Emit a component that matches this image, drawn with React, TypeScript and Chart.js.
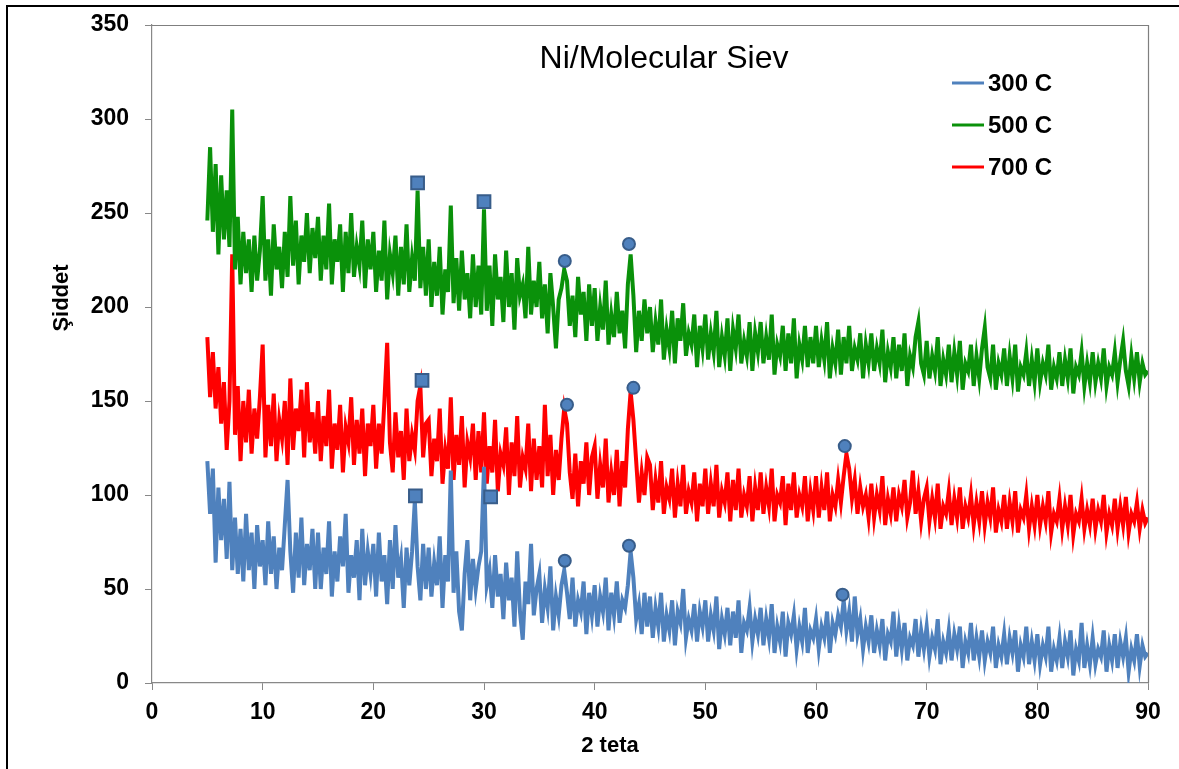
import React, { useEffect, useRef } from 'react';
import { Chart, registerables } from 'chart.js';

Chart.register(...registerables);

// 2θ sampling grid of the scans (degrees)
const THETA_START = 5;
const THETA_STEP = 0.25;

// Intensity, one row per 5 degrees (5.00 … 9.75, 10.00 … 14.75, …), last value at 90
const intensity300C = [
  118, 90, 114, 64, 104, 76, 98, 66, 107, 60, 88, 58, 82, 54, 90, 60, 80, 50, 84, 62,
  76, 52, 86, 58, 78, 50, 72, 60, 84, 108, 70, 48, 80, 56, 88, 52, 74, 60, 82, 50,
  80, 50, 72, 58, 86, 46, 70, 54, 78, 62, 90, 48, 68, 56, 76, 44, 82, 52, 70, 58,
  74, 46, 80, 54, 68, 42, 76, 50, 84, 56, 66, 40, 72, 52, 70, 97, 62, 44, 74, 50,
  72, 46, 64, 52, 78, 40, 68, 54, 113, 48, 70, 38, 28, 58, 76, 44, 66, 50, 62, 70,
  115, 52, 60, 40, 68, 46, 58, 34, 64, 44, 56, 30, 70, 38, 23, 54, 42, 74, 36, 50,
  58, 32, 50, 40, 62, 28, 46, 36, 52, 60, 48, 34, 56, 30, 44, 38, 54, 26, 48, 36,
  52, 30, 46, 38, 56, 28, 48, 36, 54, 32, 44, 40, 52, 70, 56, 34, 42, 26, 48, 30,
  46, 24, 40, 30, 48, 22, 36, 28, 44, 20, 38, 32, 50, 24, 34, 28, 42, 22, 38, 30,
  44, 22, 36, 28, 46, 18, 34, 26, 40, 20, 38, 24, 44, 16, 32, 28, 40, 22, 34, 26,
  40, 20, 34, 24, 42, 16, 30, 22, 38, 14, 32, 26, 36, 18, 30, 22, 40, 16, 28, 24,
  34, 18, 30, 24, 38, 16, 32, 26, 36, 30, 44, 28, 38, 22, 46, 26, 34, 18, 30, 22,
  36, 16, 28, 20, 34, 12, 26, 22, 38, 14, 30, 18, 32, 12, 24, 20, 34, 14, 28, 18,
  30, 14, 24, 18, 34, 10, 22, 16, 28, 12, 26, 18, 30, 8, 22, 16, 32, 12, 24, 14,
  28, 12, 22, 16, 30, 8, 20, 14, 26, 10, 24, 16, 28, 6, 20, 14, 30, 10, 22, 12,
  26, 10, 20, 14, 30, 6, 18, 12, 24, 8, 22, 14, 28, 4, 18, 12, 32, 8, 20, 10,
  24, 10, 18, 14, 28, 6, 20, 12, 26, 8, 22, 14, 24, 6, 18, 12, 26, 9, 20, 14,
  16,
];

const intensity500C = [
  246, 285, 240, 276, 228, 270, 236, 262, 232, 305, 220, 248, 212, 240, 218, 236, 208, 238, 214, 230,
  259, 214, 236, 206, 244, 220, 232, 210, 240, 216, 259, 222, 246, 212, 238, 224, 250, 218, 242, 226,
  248, 214, 238, 220, 255, 212, 236, 224, 244, 208, 240, 218, 250, 216, 232, 222, 246, 210, 236, 220,
  240, 208, 230, 214, 246, 204, 228, 218, 238, 206, 232, 212, 244, 208, 226, 214, 262, 210, 232, 206,
  236, 200, 224, 206, 232, 196, 220, 208, 254, 202, 226, 198, 230, 204, 218, 194, 228, 200, 222, 196,
  252, 198, 222, 190, 228, 204, 216, 192, 230, 200, 218, 188, 226, 206, 212, 194, 232, 196, 214, 200,
  224, 194, 212, 186, 218, 200, 178, 204, 210, 220, 214, 190, 206, 184, 216, 196, 208, 182, 212, 190,
  210, 182, 200, 188, 214, 180, 196, 184, 208, 186, 198, 178, 212, 228, 206, 176, 198, 182, 204, 186,
  200, 176, 192, 180, 204, 172, 188, 178, 198, 170, 194, 182, 202, 174, 186, 180, 196, 168, 190, 178,
  196, 172, 186, 176, 198, 168, 184, 174, 194, 166, 188, 178, 196, 170, 182, 174, 192, 166, 186, 176,
  192, 170, 184, 172, 196, 164, 180, 174, 190, 166, 186, 170, 194, 162, 180, 172, 190, 168, 184, 170,
  190, 168, 182, 172, 192, 162, 178, 170, 188, 164, 184, 170, 190, 166, 178, 172, 186, 162, 180, 170,
  186, 166, 178, 170, 188, 160, 176, 168, 184, 162, 180, 166, 186, 158, 174, 168, 184, 192, 170, 164,
  182, 162, 174, 166, 184, 158, 172, 164, 180, 160, 176, 164, 182, 156, 170, 166, 180, 158, 174, 162,
  178, 189, 168, 162, 180, 156, 170, 164, 178, 158, 174, 162, 180, 155, 168, 164, 176, 158, 172, 160,
  178, 160, 170, 164, 180, 156, 168, 162, 176, 158, 172, 162, 178, 154, 168, 164, 176, 158, 170, 160,
  176, 160, 170, 162, 178, 158, 168, 164, 176, 160, 172, 182, 166, 158, 174, 162, 176, 160, 170, 164,
  166,
];

const intensity700C = [
  184, 152, 176, 146, 168, 138, 160, 124, 150, 228, 132, 158, 118, 150, 128, 156, 122, 146, 130, 152,
  180, 120, 148, 126, 154, 118, 140, 130, 150, 116, 162, 124, 146, 134, 156, 120, 160, 128, 144, 122,
  150, 118, 142, 126, 156, 114, 138, 124, 148, 112, 136, 128, 152, 116, 140, 122, 146, 110, 138, 126,
  148, 114, 138, 122, 150, 181, 128, 112, 144, 120, 134, 108, 146, 118, 132, 124, 150, 158, 120, 138,
  140, 110, 130, 118, 146, 106, 124, 114, 152, 108, 132, 116, 142, 104, 128, 120, 138, 108, 134, 112,
  144, 106, 126, 112, 140, 102, 122, 116, 136, 100, 128, 110, 142, 104, 120, 114, 138, 102, 130, 108,
  126, 104, 148, 110, 132, 100, 124, 108, 130, 146, 138, 112, 98, 122, 94, 118, 106, 128, 100, 120,
  126, 98, 116, 104, 130, 96, 112, 100, 124, 94, 118, 104, 135, 155, 140, 118, 96, 112, 100, 120,
  116, 92, 108, 96, 118, 90, 104, 98, 114, 88, 106, 94, 116, 90, 102, 96, 112, 86, 106, 94,
  114, 90, 106, 94, 116, 88, 102, 96, 112, 86, 108, 92, 114, 88, 100, 94, 110, 86, 104, 92,
  112, 90, 104, 94, 114, 86, 100, 96, 110, 84, 106, 92, 112, 88, 100, 94, 110, 86, 102, 92,
  110, 88, 104, 92, 112, 86, 100, 94, 108, 96, 110, 122, 114, 98, 108, 90, 104, 94, 100, 88,
  106, 88, 100, 92, 110, 84, 98, 90, 104, 86, 100, 94, 108, 88, 96, 113, 90, 102, 86, 98,
  104, 86, 98, 88, 106, 82, 94, 90, 102, 84, 98, 88, 104, 82, 94, 88, 100, 84, 96, 86,
  102, 84, 96, 88, 104, 80, 92, 86, 100, 82, 96, 86, 102, 80, 92, 88, 100, 82, 94, 84,
  100, 84, 94, 86, 102, 80, 90, 86, 98, 82, 94, 84, 100, 79, 90, 86, 98, 82, 92, 84,
  98, 82, 92, 86, 100, 80, 90, 84, 98, 82, 94, 84, 99, 80, 90, 86, 96, 82, 92, 85,
  88,
];

const seriesLabels = ['300 C', '500 C', '700 C'];
const seriesColors = ['#4F81BD', '#0A910A', '#FF0000'];

// Phase markers (squares and circles) above the peaks
const squareMarkerX = [24.0, 30.0, 24.4, 23.8, 30.6];
const squareMarkerY = [266, 256, 161, 99.5, 99];
const circleMarkerX = [37.3, 43.1, 37.5, 43.5, 62.6, 37.3, 43.1, 62.4];
const circleMarkerY = [224.5, 233.5, 148, 157, 126, 65, 73, 47];

const xMin = 0;
const xMax = 90;
const xStep = 10;
const yMin = 0;
const yMax = 350;
const yStep = 50;

const chartTitle = 'Ni/Molecular Siev';
const xAxisTitle = '2 teta';
const yAxisTitle = 'Şiddet';

const FONT = "'Liberation Sans', Arial, sans-serif";

function toPoints(values: number[]) {
  return values.map((y, i) => ({ x: THETA_START + i * THETA_STEP, y }));
}

function zip(xs: number[], ys: number[]) {
  return xs.map((x, i) => ({ x, y: ys[i] }));
}

const overlayPlugin = {
  id: 'overlay',
  beforeDraw(chart: any) {
    const { ctx, width, height } = chart;
    ctx.save();
    ctx.fillStyle = '#ffffff';
    ctx.fillRect(0, 0, width, height);
    ctx.strokeStyle = '#000000';
    ctx.lineWidth = 2;
    ctx.beginPath();
    ctx.moveTo(7, height);
    ctx.lineTo(7, 6);
    ctx.lineTo(width, 6);
    ctx.stroke();
    ctx.restore();
  },
  afterDraw(chart: any) {
    const { ctx, chartArea: a } = chart;
    ctx.save();
    // plot area frame (top / right)
    ctx.strokeStyle = '#7f7f7f';
    ctx.lineWidth = 1.2;
    ctx.beginPath();
    ctx.moveTo(a.left, a.top + 0.5);
    ctx.lineTo(a.right + 0.5, a.top + 0.5);
    ctx.lineTo(a.right + 0.5, a.bottom);
    ctx.stroke();

    // chart title
    ctx.fillStyle = '#000000';
    ctx.textAlign = 'center';
    ctx.textBaseline = 'middle';
    ctx.font = `normal 32px ${FONT}`;
    ctx.fillText(chartTitle, a.left + 512, a.top + 34);

    // legend
    ctx.font = `bold 24px ${FONT}`;
    ctx.textAlign = 'left';
    seriesLabels.forEach((label, i) => {
      const y = a.top + 58 + i * 42;
      ctx.strokeStyle = seriesColors[i];
      ctx.lineWidth = 3;
      ctx.beginPath();
      ctx.moveTo(a.left + 800, y);
      ctx.lineTo(a.left + 832, y);
      ctx.stroke();
      ctx.fillText(label, a.left + 836, y + 1);
    });

    // axis titles
    ctx.font = `bold 22px ${FONT}`;
    ctx.textAlign = 'center';
    ctx.fillText(xAxisTitle, a.left + 458, a.bottom + 63);
    ctx.save();
    ctx.translate(62, a.top + 273);
    ctx.rotate(-Math.PI / 2);
    ctx.fillText(yAxisTitle, 0, 0);
    ctx.restore();
    ctx.restore();
  },
};

export default function App() {
  const canvasRef = useRef<HTMLCanvasElement | null>(null);

  useEffect(() => {
    const canvas = canvasRef.current;
    if (!canvas) return;
    const markerStyle = {
      backgroundColor: '#4F81BD',
      borderColor: '#385D8A',
      borderWidth: 2,
      showLine: false,
      order: -1,
    };
    const chart = new Chart(canvas, {
      type: 'line',
      data: {
        datasets: [
          {
            type: 'line',
            label: 'squares',
            data: zip(squareMarkerX, squareMarkerY),
            pointStyle: 'rect',
            pointRadius: 9,
            ...markerStyle,
          } as any,
          {
            type: 'line',
            label: 'circles',
            data: zip(circleMarkerX, circleMarkerY),
            pointStyle: 'circle',
            pointRadius: 6,
            ...markerStyle,
          } as any,
          ...[intensity300C, intensity500C, intensity700C].map((vals, i) => ({
            type: 'line',
            label: seriesLabels[i],
            data: toPoints(vals),
            borderColor: seriesColors[i],
            backgroundColor: seriesColors[i],
            borderWidth: 4,
            borderJoinStyle: 'miter',
            pointRadius: 0,
            tension: 0,
            fill: false,
            order: i,
          })),
        ] as any,
      },
      options: {
        responsive: false,
        animation: false,
        devicePixelRatio: 1,
        layout: { padding: { left: 0, right: 31, top: 25, bottom: 0 } },
        plugins: {
          legend: { display: false },
          title: { display: false },
          tooltip: { enabled: false },
        },
        scales: {
          x: {
            type: 'linear',
            min: xMin,
            max: xMax,
            afterFit: (s: any) => {
              s.height = 86;
              s.paddingLeft = 0;
              s.paddingRight = 0;
            },
            ticks: {
              stepSize: xStep,
              padding: 9,
              color: '#000',
              font: { family: FONT, size: 23, weight: 'bold' },
            },
            grid: { drawOnChartArea: false, drawTicks: true, tickLength: 7, color: '#888888' },
            border: { display: true, color: '#888888', width: 1.2 },
            title: { display: false, text: xAxisTitle },
          },
          y: {
            type: 'linear',
            min: yMin,
            max: yMax,
            afterFit: (s: any) => {
              s.width = 152;
              s.paddingTop = 0;
              s.paddingBottom = 0;
            },
            ticks: {
              stepSize: yStep,
              padding: 16,
              color: '#000',
              font: { family: FONT, size: 23, weight: 'bold' },
            },
            grid: { drawOnChartArea: false, drawTicks: true, tickLength: 7, color: '#888888' },
            border: { display: true, color: '#888888', width: 1.2 },
            title: { display: false, text: yAxisTitle },
          },
        },
      } as any,
      plugins: [overlayPlugin],
    });
    return () => chart.destroy();
  }, []);

  return (
    <div style={{ position: 'fixed', left: 0, top: 0, width: 1179, height: 769, background: '#fff' }}>
      <canvas ref={canvasRef} width={1179} height={769} style={{ display: 'block' }} />
    </div>
  );
}
